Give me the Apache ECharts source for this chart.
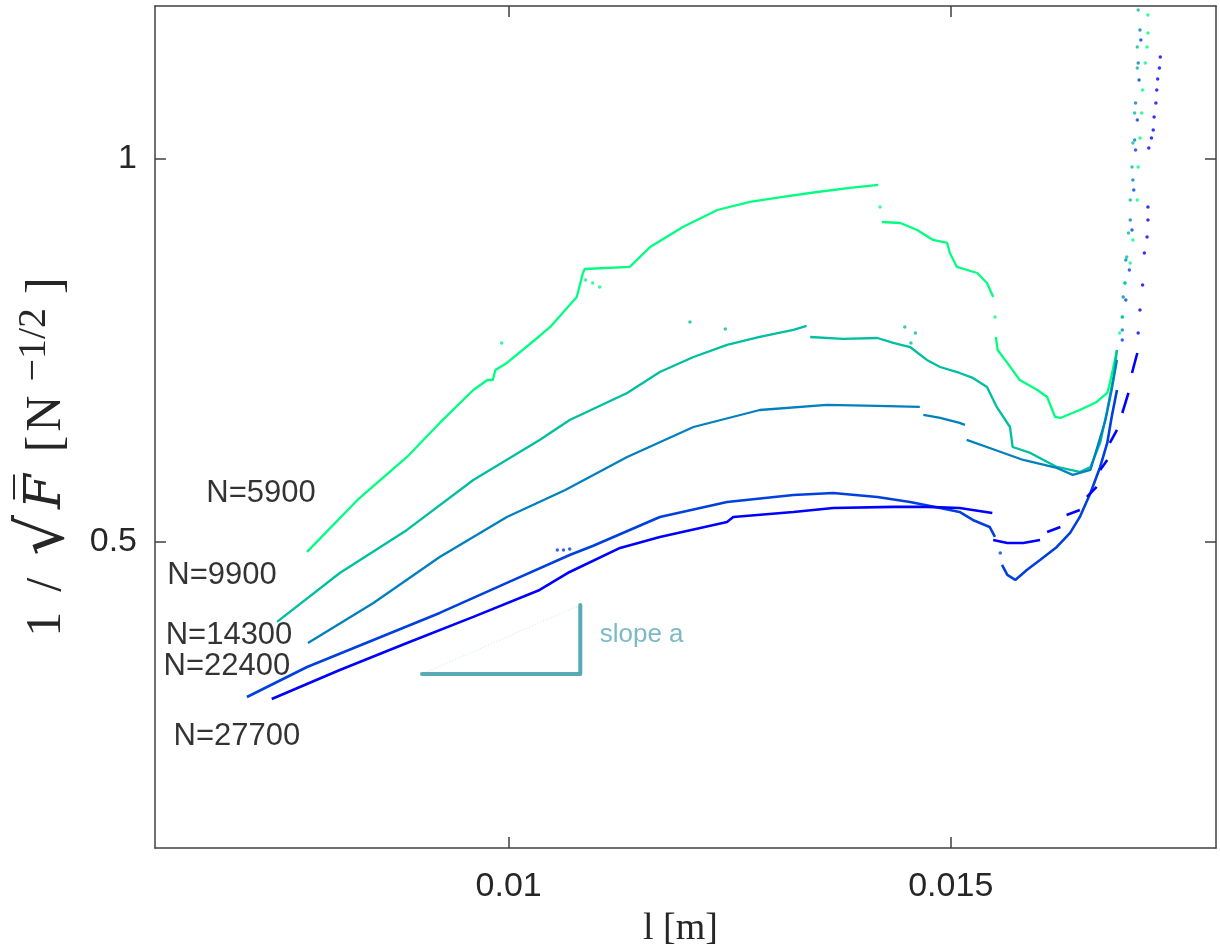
<!DOCTYPE html>
<html>
<head>
<meta charset="utf-8">
<script src="https://cdn.jsdelivr.net/npm/echarts@6/dist/echarts.min.js"></script>
<style>html,body{margin:0;padding:0;background:#fff;}#c{width:1220px;height:950px;}</style>
</head>
<body>
<div id="c"></div>
<script>
// ---- axis ticks ----
const xTickValues = [0.01, 0.015];
const xTickLabels = ['0.01', '0.015'];
const yTickValues = [0.5, 1];
const yTickLabels = ['0.5', '1'];

// ---- series names ----
const seriesNames = ['N=5900', 'N=9900', 'N=14300', 'N=22400', 'N=27700'];

// ---- N=5900 ----
const n5900Segments = [
  [[0.00772,0.4868],[0.00829,0.5547],[0.00885,0.6109],[0.00922,0.6553],[0.0096,0.6984],[0.00976,0.7114],[0.00982,0.7114],[0.00985,0.7245],[0.00998,0.7337],[0.01035,0.7689],[0.01047,0.7807],[0.01077,0.8199],[0.01084,0.8512],[0.01086,0.8564],[0.01137,0.8591],[0.0116,0.8852],[0.01197,0.9113],[0.01236,0.9335],[0.01273,0.944],[0.0131,0.9505],[0.01349,0.957],[0.01386,0.9623],[0.01418,0.9662]],
  [[0.01422,0.9178],[0.01443,0.9165],[0.01462,0.9074],[0.0148,0.8943],[0.01496,0.8904],[0.01499,0.8773],[0.01507,0.8591],[0.0153,0.8512],[0.01541,0.8382],[0.01548,0.8199]],
  [[0.01551,0.7676],[0.01553,0.7506],[0.01564,0.7337],[0.01578,0.7114],[0.01598,0.6984],[0.01609,0.6892],[0.01618,0.6631],[0.01624,0.6618],[0.01646,0.6722],[0.01665,0.6827],[0.01677,0.6945],[0.0168,0.7075],[0.01688,0.7506]]
];
const n5900Dots = [[0.0142,0.9374],[0.0155,0.7937],[0.01087,0.8421],[0.01095,0.8382],[0.01103,0.8329],[0.00992,0.7598],
  [0.01691,0.7728],[0.01694,0.7937],[0.01697,0.8382],[0.01703,0.8643],[0.01706,0.8943],[0.01711,0.9466],[0.01712,0.9897],[0.01714,1.0276],[0.01716,1.0602],[0.01717,1.0903],[0.0172,1.1255],[0.01722,1.1464],[0.01723,1.1647],[0.01723,1.1882]];

// ---- N=9900 ----
const n9900Segments = [
  [[0.00738,0.3953],[0.00809,0.4593],[0.00885,0.5155],[0.0096,0.5808],[0.01035,0.6331],[0.01069,0.6592],[0.01134,0.6945],[0.01171,0.7219],[0.01209,0.7415],[0.01247,0.7572],[0.01284,0.7676],[0.01322,0.7768],[0.01337,0.782]],
  [[0.01341,0.7676],[0.01378,0.765],[0.01417,0.7663],[0.01435,0.7598],[0.01454,0.7545],[0.01473,0.7376],[0.01488,0.7284],[0.0151,0.7206],[0.01525,0.7141],[0.01541,0.7023],[0.01552,0.6762],[0.01567,0.65],[0.0157,0.6239],[0.0159,0.6161],[0.0162,0.5978],[0.01646,0.5913],[0.01658,0.5978],[0.01669,0.6292],[0.01677,0.6722],[0.01684,0.7154],[0.01688,0.7506]]
];
const n9900Dots = [[0.01205,0.7872],[0.01245,0.7781],[0.01448,0.7807],[0.0146,0.7728],[0.01455,0.7598],
  [0.01694,0.7937],[0.01697,0.8382],[0.01699,0.8721],[0.01701,0.9035],[0.01703,0.9466],[0.01705,0.9897],[0.01706,1.021],[0.01708,1.0602],[0.01711,1.119],[0.01711,1.1464],[0.01712,1.1948]];

// ---- N=14300 ----
const n14300Segments = [
  [[0.00773,0.3679],[0.00847,0.4201],[0.00922,0.4802],[0.00998,0.5325],[0.01064,0.5677],[0.01134,0.6109],[0.01209,0.65],[0.01284,0.6722],[0.0136,0.6788],[0.01417,0.6775],[0.01465,0.6762]],
  [[0.01469,0.6657],[0.01488,0.6618],[0.0151,0.6553],[0.01516,0.6527]],
  [[0.01518,0.6331],[0.01544,0.6226],[0.01582,0.6069],[0.0162,0.5965],[0.01638,0.5874],[0.01658,0.5939],[0.01675,0.6592],[0.01682,0.6984],[0.01688,0.7376]]
];
const n14300Dots = [[0.01694,0.7768],[0.01695,0.8199],[0.01698,0.8682],[0.01703,0.9205],[0.01706,0.9727],[0.01708,1.025],[0.01709,1.0733],[0.01712,1.1255],[0.01714,1.1686]];

// ---- N=22400 ----
const n22400Segments = [
  [[0.00704,0.2973],[0.00772,0.3365],[0.00847,0.3718],[0.00922,0.4071],[0.00998,0.4463],[0.01069,0.4828],[0.01095,0.4946],[0.01171,0.5325],[0.01247,0.5521],[0.01322,0.5612],[0.01367,0.5638],[0.01417,0.5586],[0.01454,0.5521],[0.01488,0.5442],[0.0151,0.539],[0.01525,0.5286],[0.01544,0.5194],[0.0155,0.5064]],
  [[0.01558,0.4698],[0.01564,0.4567],[0.01573,0.4502],[0.01586,0.4632],[0.01601,0.4763],[0.0162,0.4933],[0.01635,0.5116],[0.01646,0.5325],[0.01658,0.5638],[0.01669,0.5978],[0.01677,0.6292],[0.01682,0.6631],[0.01688,0.6984]]
];
const n22400Dots = [[0.01556,0.4855],[0.01055,0.4894],[0.01062,0.4894],[0.01069,0.4907],
  [0.01694,0.7637],[0.01698,0.816],[0.01702,0.8551],[0.01705,0.9074],[0.01707,0.9596],[0.01709,1.0119],[0.01711,1.0511],[0.01713,1.1033],[0.01715,1.1556]];

// ---- N=27700 ----
const n27700Segments = [
  [[0.00732,0.2947],[0.00809,0.3326],[0.00885,0.3679],[0.0096,0.4019],[0.01035,0.4371],[0.01069,0.4606],[0.01126,0.492],[0.01171,0.5064],[0.01247,0.526],[0.01254,0.5325],[0.01322,0.539],[0.01367,0.5442],[0.01435,0.5456],[0.01473,0.5456],[0.0151,0.5442],[0.01547,0.5377]],
  [[0.01548,0.5024],[0.01564,0.4985],[0.01582,0.4985],[0.01601,0.5024]],
  [[0.01609,0.5129],[0.01624,0.5194]],
  [[0.01631,0.5351],[0.01646,0.5416]],
  [[0.01654,0.5586],[0.01665,0.5717]],
  [[0.01669,0.5939],[0.01677,0.6069]],
  [[0.0168,0.6292],[0.01688,0.6461]],
  [[0.01694,0.6683],[0.01701,0.6945]],
  [[0.01705,0.7206],[0.01711,0.7467]]
];
const n27700Dots = [[0.01712,0.7728],[0.01714,0.8029],[0.01717,0.8355],[0.01719,0.8773],[0.01722,0.8982],[0.01723,0.9205],[0.01723,0.9374],
  [0.01724,1.0145],[0.01727,1.0276],[0.01729,1.038],[0.0173,1.055],[0.01732,1.0733],[0.01733,1.0903],[0.01734,1.1046],[0.01736,1.119],[0.01737,1.1334]];

// ---- annotations ----
const nLabelX = [0.0072, 0.006758, 0.006837, 0.006814, 0.006927];
const nLabelY = [0.5638, 0.4567, 0.3783, 0.3378, 0.2451];
const slopeTriangle = [[0.00902,0.3274],[0.01081,0.3274],[0.01081,0.4175]];
const slopeHyp = [[0.00902,0.3274],[0.01081,0.4175]];
const slopeText = 'slope a';
const slopeTextPos = [0.01103, 0.3783];

// ---- styles ----
const colors = ['#00ff80', '#00bf9f', '#0080bf', '#0040df', '#0000ff'];
const allSegs = [n5900Segments, n9900Segments, n14300Segments, n22400Segments, n27700Segments];
const allDots = [n5900Dots, n9900Dots, n14300Dots, n22400Dots, n27700Dots];

const chart = echarts.init(document.getElementById('c'));
const series = [];
allSegs.forEach((segs, i) => {
  segs.forEach(seg => {
    series.push({
      name: seriesNames[i], type: 'line', data: seg, symbol: 'none', showSymbol: false,
      lineStyle: { color: colors[i], width: i >= 3 ? 2.6 : 2.3 }, silent: true, z: 2 + i
    });
  });
  series.push({
    name: seriesNames[i], type: 'scatter', data: allDots[i], symbolSize: 3.5,
    itemStyle: { color: colors[i] }, silent: true, z: 2 + i
  });
});
series.push({
  type: 'line', data: slopeHyp, symbol: 'none', silent: true,
  lineStyle: { color: '#cfe6ea', width: 1, type: [1, 2] }, z: 10
});
series.push({
  type: 'line', data: slopeTriangle, symbol: 'none', silent: true,
  lineStyle: { color: '#5aa9b6', width: 4, cap: 'round', join: 'round' }, z: 11
});
series.push({
  type: 'scatter', symbolSize: 0, silent: true, z: 12,
  data: [{ value: slopeTextPos, name: slopeText }],
  label: { show: true, position: 'right', distance: 0, formatter: '{b}', color: '#5aa9b6',
    fontSize: 26, fontFamily: 'Liberation Sans, Arial, sans-serif' }
});
series.push({
  type: 'scatter', symbolSize: 0, silent: true, z: 12,
  data: seriesNames.map((n, i) => ({ value: [nLabelX[i], nLabelY[i]], name: n })),
  label: { show: true, position: 'inside', formatter: '{b}', color: '#000',
    fontSize: 31, fontFamily: 'Liberation Sans, Arial, sans-serif' }
});

const axisLineStyle = { color: '#404040', width: 1.5 };
const tickStyle = { color: '#404040', width: 1.5 };
const font = 'Liberation Sans, Arial, sans-serif';
const serif = 'Liberation Serif, Times New Roman, serif';
const tc = '#262626';

chart.setOption({
  animation: false,
  backgroundColor: '#ffffff',
  grid: { left: 155, right: 4, top: 6, bottom: 102, containLabel: false, outerBoundsMode: 'none' },
  xAxis: [
    {
      type: 'value', min: 0.006, max: 0.018, position: 'bottom',
      axisLine: { show: true, onZero: false, lineStyle: axisLineStyle },
      axisTick: { show: true, inside: true, length: 11, customValues: xTickValues, lineStyle: tickStyle },
      axisLabel: { show: true, customValues: xTickValues, margin: 22, fontSize: 34, color: tc, fontFamily: font,
        formatter: v => { const k = xTickValues.findIndex(t => Math.abs(t - v) < 1e-9); return k >= 0 ? xTickLabels[k] : ''; } },
      splitLine: { show: false },
      name: 'l [m]', nameLocation: 'middle', nameGap: 62,
      nameTextStyle: { fontSize: 38, color: tc, fontFamily: serif, padding: [0, 10, 0, 0] }
    },
    {
      type: 'value', min: 0.006, max: 0.018, position: 'top',
      axisLine: { show: true, onZero: false, lineStyle: axisLineStyle },
      axisTick: { show: true, inside: true, length: 11, customValues: xTickValues, lineStyle: tickStyle },
      axisLabel: { show: false }, splitLine: { show: false }
    }
  ],
  yAxis: [
    {
      type: 'value', min: 0.1, max: 1.2, position: 'left',
      axisLine: { show: true, onZero: false, lineStyle: axisLineStyle },
      axisTick: { show: true, inside: true, length: 11, customValues: yTickValues, lineStyle: tickStyle },
      axisLabel: { show: true, customValues: yTickValues, margin: 18, fontSize: 34, color: tc, fontFamily: font,
        formatter: v => { const k = yTickValues.findIndex(t => Math.abs(t - v) < 1e-9); return k >= 0 ? yTickLabels[k] : ''; } },
      splitLine: { show: false },
      name: '{one|1}{sl|/}{rad|√}{f|F\u0305}{br|[}{n|N}{s|−1/2}{br2|]}', nameLocation: 'middle', nameGap: 65,
      nameTextStyle: {
        padding: [0, 66, 0, 0],
        rich: {
          one: { fontSize: 50, color: tc, fontFamily: serif, padding: [0, 8, 0, 6], lineHeight: 64 },
          sl: { fontSize: 50, color: tc, fontFamily: serif, padding: [0, 12, 0, 12], lineHeight: 64 },
          rad: { fontSize: 64, color: tc, fontFamily: 'DejaVu Serif, serif', padding: [0, 6, 0, 10], lineHeight: 64 },
          f: { fontSize: 50, color: tc, fontFamily: 'DejaVu Serif, serif', fontStyle: 'italic', padding: [0, 8, 0, 0], lineHeight: 64 },
          br: { fontSize: 50, color: tc, fontFamily: serif, padding: [0, 4, 0, 14], lineHeight: 64 },
          n: { fontSize: 50, color: tc, fontFamily: serif, padding: [0, 6, 0, 0], lineHeight: 64 },
          s: { fontSize: 40, color: tc, fontFamily: serif, verticalAlign: 'top', padding: [0, 14, 0, 8], lineHeight: 40 },
          br2: { fontSize: 50, color: tc, fontFamily: serif, lineHeight: 64 }
        }
      }
    },
    {
      type: 'value', min: 0.1, max: 1.2, position: 'right',
      axisLine: { show: true, onZero: false, lineStyle: axisLineStyle },
      axisTick: { show: true, inside: true, length: 11, customValues: yTickValues, lineStyle: tickStyle },
      axisLabel: { show: false }, splitLine: { show: false }
    }
  ],
  series: series
});
</script>
</body>
</html>
